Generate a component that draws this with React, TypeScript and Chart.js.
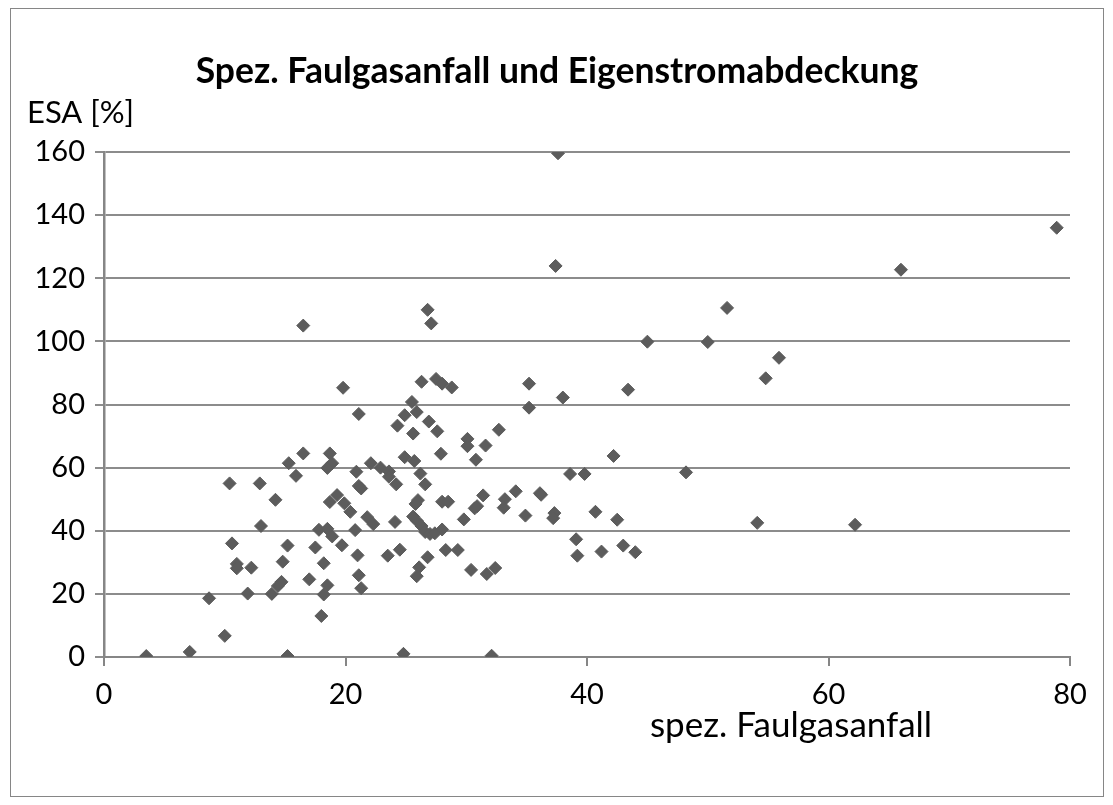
import { useEffect, useRef } from "react";
import { Chart, registerables } from "chart.js";

Chart.register(...registerables);

const chartTitle = "Spez. Faulgasanfall und Eigenstromabdeckung";
const yAxisLabel = "ESA [%]";
const xAxisLabel = "spez. Faulgasanfall";

const xTickValues = [0, 20, 40, 60, 80];
const yTickValues = [0, 20, 40, 60, 80, 100, 120, 140, 160];

const faulgas = [
  3.5, 7.1, 8.7, 10.0, 10.4, 10.6, 11.0, 11.0, 12.2, 11.9,
  12.9, 13.0, 13.9, 14.2, 14.4, 14.7, 14.8, 15.2, 15.2, 15.3,
  15.9, 16.5, 16.5, 17.0, 17.5, 17.8, 18.0, 18.2, 18.2, 18.5,
  18.5, 18.9, 18.7, 18.9, 18.5, 18.7, 19.3, 19.9, 19.7, 19.8,
  20.4, 20.8, 20.9, 21.1, 21.0, 21.1, 21.3, 21.1, 21.3, 21.8,
  22.3, 22.1, 22.9, 23.6, 23.6, 23.5, 24.2, 24.1, 24.5, 24.8,
  24.3, 24.9, 24.9, 25.5, 25.9, 25.6, 25.7, 25.6, 25.9, 26.3,
  26.0, 25.8, 26.1, 25.9, 26.2, 26.6, 26.3, 26.6, 27.0, 27.4,
  26.8, 26.8, 27.1, 26.9, 27.5, 28.0, 28.8, 27.6, 27.9, 28.0,
  28.0, 28.5, 28.3, 29.3, 29.8, 30.1, 30.1, 30.8, 30.9, 30.7,
  30.4, 31.4, 31.6, 31.7, 32.4, 32.1, 32.7, 33.2, 33.1, 34.1,
  34.9, 35.2, 35.2, 36.1, 36.2, 37.3, 37.2, 37.6, 37.4, 38.0,
  38.6, 39.8, 39.1, 39.2, 40.7, 41.2, 42.2, 42.5, 43.0, 43.4,
  44.0, 45.0, 48.2, 50.0, 51.6, 54.1, 54.8, 55.9, 62.2, 66.0,
  78.9,
];

const eigenstrom = [
  0.3, 1.6, 18.6, 6.7, 55.0, 36.0, 29.5, 28.1, 28.3, 20.1,
  55.0, 41.5, 20.0, 49.8, 22.5, 23.8, 30.2, 35.3, 0.3, 61.4,
  57.4, 64.5, 105.0, 24.6, 34.7, 40.3, 13.0, 29.7, 19.8, 22.7,
  40.6, 38.2, 64.5, 61.4, 59.9, 49.1, 51.3, 48.7, 35.4, 85.3,
  46.0, 40.2, 58.7, 77.0, 32.2, 25.9, 21.8, 54.2, 53.4, 44.3,
  42.1, 61.4, 60.0, 58.8, 57.1, 32.1, 54.7, 42.8, 34.0, 1.0,
  73.3, 76.6, 63.3, 80.8, 77.6, 70.8, 62.1, 44.5, 43.2, 41.5,
  49.7, 48.5, 28.4, 25.6, 58.1, 54.7, 87.2, 39.6, 39.0, 39.2,
  31.6, 110.0, 105.7, 74.6, 88.1, 86.6, 85.4, 71.5, 64.4, 40.4,
  49.2, 49.2, 33.9, 33.9, 43.6, 69.1, 66.8, 62.5, 47.8, 47.1,
  27.6, 51.2, 67.0, 26.3, 28.2, 0.4, 72.0, 50.0, 47.3, 52.5,
  44.8, 86.6, 79.0, 51.9, 51.4, 45.6, 44.0, 159.6, 123.9, 82.2,
  58.0, 58.0, 37.3, 32.1, 46.0, 33.4, 63.7, 43.5, 35.3, 84.7,
  33.2, 99.9, 58.5, 99.8, 110.6, 42.5, 88.3, 94.8, 41.9, 122.7,
  136.0,
];

const FONT = "Lato, 'DejaVu Sans', sans-serif";
const AXIS_GRAY = "#868686";

const decorPlugin = {
  id: "decor",
  beforeDraw(chart: any) {
    const ctx = chart.ctx;
    ctx.save();
    ctx.fillStyle = "#ffffff";
    ctx.fillRect(0, 0, chart.width, chart.height);
    ctx.strokeStyle = AXIS_GRAY;
    ctx.lineWidth = 1;
    ctx.strokeRect(10.5, 8.5, 1093, 788);
    ctx.restore();
  },
  afterDraw(chart: any) {
    const ctx = chart.ctx;
    ctx.save();
    ctx.fillStyle = "#000000";
    ctx.textBaseline = "middle";
    ctx.textAlign = "center";
    ctx.font = `bold 35.5px ${FONT}`;
    ctx.fillText(chartTitle, 557, 72);
    ctx.textAlign = "left";
    ctx.font = `31px ${FONT}`;
    ctx.fillText(yAxisLabel, 27, 113);
    ctx.textAlign = "center";
    ctx.font = `35px ${FONT}`;
    ctx.fillText(xAxisLabel, 791, 726);
    ctx.restore();
  },
};

export default function App() {
  const canvasRef = useRef<HTMLCanvasElement | null>(null);

  useEffect(() => {
    const canvas = canvasRef.current;
    if (!canvas) return;
    const points = faulgas.map((x, i) => ({ x, y: eigenstrom[i] }));
    const chart = new Chart(canvas, {
      type: "scatter",
      data: {
        datasets: [
          {
            data: points,
            pointStyle: "rectRot",
            pointRadius: 6.5,
            pointBackgroundColor: "#5c5c5c",
            pointBorderColor: "#5c5c5c",
            pointBorderWidth: 1,
          },
        ],
      },
      options: {
        responsive: false,
        animation: false,
        layout: { padding: { top: 152, left: 0, right: 43, bottom: 0 } },
        plugins: {
          legend: { display: false },
          tooltip: { enabled: false },
          title: { display: false },
        },
        scales: {
          x: {
            type: "linear",
            min: xTickValues[0],
            max: xTickValues[xTickValues.length - 1],
            afterBuildTicks: (scale: any) => {
              scale.ticks = xTickValues.map((v) => ({ value: v }));
            },
            afterFit: (scale: any) => {
              scale.height = 148;
            },
            ticks: {
              color: "#000000",
              font: { family: FONT, size: 29 },
              padding: 11,
              maxRotation: 0,
            },
            grid: {
              drawOnChartArea: false,
              drawTicks: true,
              tickLength: 9,
              color: AXIS_GRAY,
              lineWidth: 2,
            },
            border: { display: true, color: AXIS_GRAY, width: 2 },
          },
          y: {
            type: "linear",
            min: yTickValues[0],
            max: yTickValues[yTickValues.length - 1],
            afterBuildTicks: (scale: any) => {
              scale.ticks = yTickValues.map((v) => ({ value: v }));
            },
            afterFit: (scale: any) => {
              scale.width = 104;
            },
            ticks: {
              color: "#000000",
              font: { family: FONT, size: 29 },
              padding: 10,
            },
            grid: {
              drawTicks: true,
              tickLength: 9,
              color: "#8c8c8c",
              lineWidth: 2,
            },
            border: { display: true, color: AXIS_GRAY, width: 2.5 },
          },
        },
      },
      plugins: [decorPlugin],
    });
    return () => chart.destroy();
  }, []);

  return (
    <div style={{ position: "absolute", left: 0, top: 0, width: 1113, height: 805, background: "#fff" }}>
      <canvas ref={canvasRef} width={1113} height={805} style={{ display: "block" }} />
    </div>
  );
}
